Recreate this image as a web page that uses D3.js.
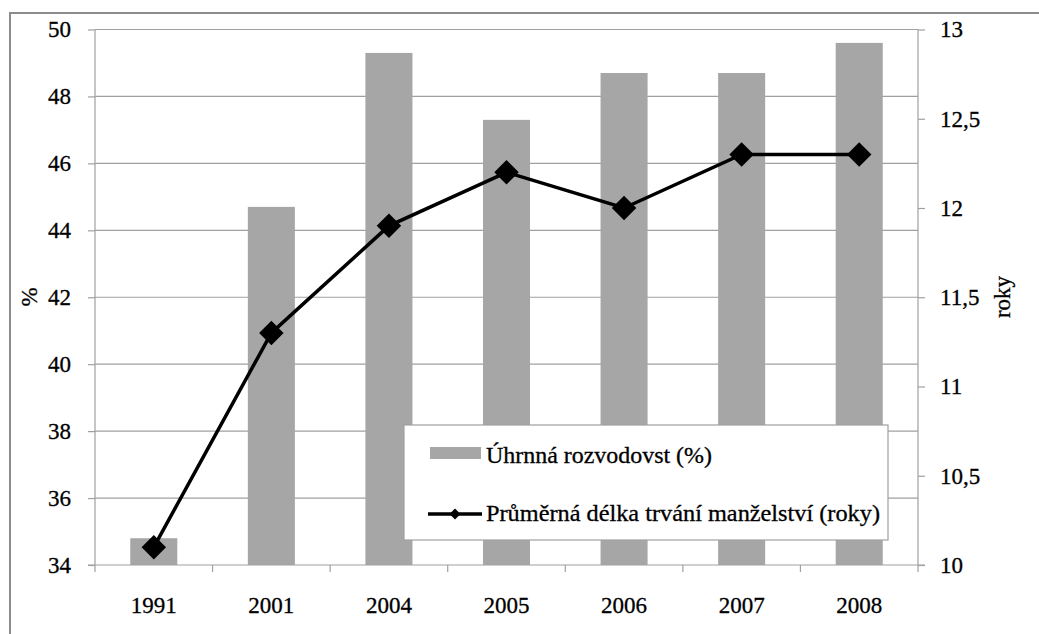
<!DOCTYPE html>
<html><head><meta charset="utf-8">
<script src="https://cdn.jsdelivr.net/npm/d3@7"></script>
<style>body{margin:0;background:#fff}svg{display:block}svg text{font-family:"Liberation Serif","Times New Roman",Tinos,serif !important;fill:#000;stroke:#000;stroke-width:0.3px}</style>
</head><body><svg id="c" width="1039" height="634"></svg>
<script>
const years = ["1991","2001","2004","2005","2006","2007","2008"];
const divorceRate = [34.8,44.7,49.3,47.3,48.7,48.7,49.6];
const marriageDuration = [10.1,11.3,11.9,12.2,12.0,12.3,12.3];
const leftTicks = [34,36,38,40,42,44,46,48,50];
const rightTicks = [10,10.5,11,11.5,12,12.5,13];
const seriesNames = ["Úhrnná rozvodovst (%)","Průměrná délka trvání manželství (roky)"];

const svg = d3.select("#c");
const L=95, R=918, T=29.5, B=565;
const fs = 23;
svg.append("rect").attr("x",10).attr("y",13).attr("width",1100).attr("height",700)
  .attr("fill","none").attr("stroke","#8c8c8c").attr("stroke-width",2);

const x = d3.scaleBand().domain(years).range([L,R]);
const yL = d3.scaleLinear().domain([34,50]).range([B,T]);
const yR = d3.scaleLinear().domain([10,13]).range([B,T]);
const grid="#a0a0a0";

svg.append("g").selectAll("line").data(leftTicks.slice(1)).join("line")
  .attr("x1",L).attr("x2",R).attr("y1",d=>yL(d)).attr("y2",d=>yL(d))
  .attr("stroke",grid).attr("stroke-width",1.2);

const bw = x.bandwidth()*0.4;
svg.append("g").selectAll("rect").data(years).join("rect")
  .attr("x",d=>x(d)+x.bandwidth()/2-bw/2).attr("width",bw)
  .attr("y",(d,i)=>yL(divorceRate[i])).attr("height",(d,i)=>B-yL(divorceRate[i]))
  .attr("fill","#a6a6a6");

function styleText(g){
  g.attr("font-family",null).attr("font-size",null);
  g.selectAll("text").style("font-size",fs+"px").attr("fill","#000");
}
const gl = svg.append("g").attr("transform",`translate(${L},0)`)
  .call(d3.axisLeft(yL).tickValues(leftTicks).tickSize(7).tickPadding(17));
gl.selectAll("line,path").attr("stroke",grid).attr("stroke-width",1.2);
gl.select(".domain").attr("d",`M-0,${T}V${B}`);
styleText(gl);

const gr = svg.append("g").attr("transform",`translate(${R},0)`)
  .call(d3.axisRight(yR).tickValues(rightTicks).tickSize(7).tickPadding(15)
  .tickFormat(d=>String(d).replace(".",",")));
gr.selectAll("line,path").attr("stroke",grid).attr("stroke-width",1.2);
gr.select(".domain").attr("d",`M0,${T}V${B}`);
styleText(gr);

const gb = svg.append("g").attr("transform",`translate(0,${B})`)
  .call(d3.axisBottom(x).tickSize(0).tickPadding(32));
gb.select(".domain").attr("stroke",grid).attr("stroke-width",1.2).attr("d",`M${L-7},0H${R+7}`);
styleText(gb);
const bounds = years.map(d=>x(d)).concat([R]);
svg.append("g").selectAll("line").data(bounds).join("line")
  .attr("x1",d=>d).attr("x2",d=>d).attr("y1",B).attr("y2",B+7)
  .attr("stroke",grid).attr("stroke-width",1.2);

const cx = d=>x(d)+x.bandwidth()/2;
svg.append("path").datum(years)
  .attr("d",d3.line().x(d=>cx(d)).y((d,i)=>yR(marriageDuration[i])))
  .attr("fill","none").attr("stroke","#000").attr("stroke-width",3.5);
svg.append("g").selectAll("path").data(years).join("path")
  .attr("d",d3.symbol(d3.symbolSquare,300))
  .attr("transform",(d,i)=>`translate(${cx(d)},${yR(marriageDuration[i])}) rotate(45)`)
  .attr("fill","#000");

svg.append("text").attr("transform","translate(37,297) rotate(-90)").attr("text-anchor","middle")
  .style("font-size",fs+"px").text("%");
svg.append("text").attr("transform","translate(1010,297) rotate(-90)").attr("text-anchor","middle")
  .style("font-size",fs+"px").text("roky");

const lg = svg.append("g");
lg.append("rect").attr("x",404).attr("y",425).attr("width",484).attr("height",115)
  .attr("fill","#fff").attr("stroke","#a0a0a0").attr("stroke-width",1.2);
lg.append("rect").attr("x",430).attr("y",447).attr("width",51).attr("height",12).attr("fill","#a6a6a6");
lg.append("text").attr("x",486).attr("y",463).style("font-size",fs+"px").attr("textLength",226).attr("lengthAdjust","spacingAndGlyphs").text(seriesNames[0]);
lg.append("line").attr("x1",428).attr("x2",482).attr("y1",514).attr("y2",514).attr("stroke","#000").attr("stroke-width",3.5);
lg.append("path").attr("d",d3.symbol(d3.symbolSquare,60)).attr("transform","translate(455,514) rotate(45)").attr("fill","#000");
lg.append("text").attr("x",486).attr("y",521).style("font-size",fs+"px").attr("textLength",394).attr("lengthAdjust","spacingAndGlyphs").text(seriesNames[1]);
</script></body></html>
